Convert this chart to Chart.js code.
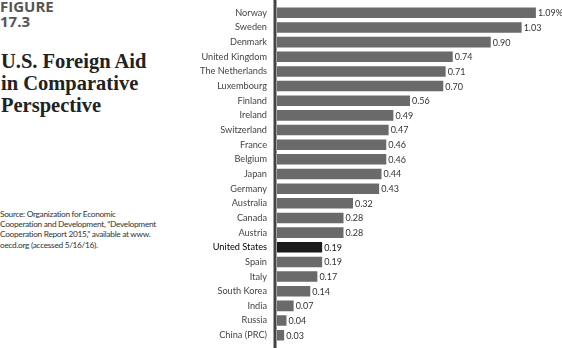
<!DOCTYPE html>
<html lang="en">
<head>
    <meta charset="UTF-8">
    <title>U.S. Foreign Aid in Comparative Perspective</title>
    <style>
        body {
            margin: 0;
            background: #fff;
            width: 562px;
            height: 348px;
            overflow: hidden;
            position: relative;
        }
        .figure {
            position: absolute;
            left: 0;
            top: -1px;
            font-family: "Open Sans", sans-serif;
            font-weight: bold;
            font-size: 15px;
            line-height: 14.5px;
            color: #555;
        }
        .title {
            position: absolute;
            left: 1px;
            top: 50px;
            font-family: "Liberation Serif", serif;
            font-weight: bold;
            font-size: 20.5px;
            line-height: 22px;
            color: #222;
        }
        .source {
            position: absolute;
            left: 0;
            top: 209px;
            font-family: Lato, sans-serif;
            font-size: 8.3px;
            letter-spacing: -0.3px;
            line-height: 10.2px;
            color: #333;
        }
        .chart-box {
            position: absolute;
            left: 180px;
            top: 0;
            width: 382px;
            height: 348px;
        }
    </style>
</head>
<body>
    <div class="figure">FIGURE<br>17.3</div>
    <div class="title">U.S. Foreign Aid<br>in Comparative<br>Perspective</div>
    <div class="source">Source: Organization for Economic<br>Cooperation and Development, “Development<br>Cooperation Report 2015,” available at www.<br>oecd.org (accessed 5/16/16).</div>
    <div class="chart-box"><canvas id="aidChart" width="382" height="348"></canvas></div>

    <script src="https://cdn.jsdelivr.net/npm/chart.js"></script>
    <script>
        // ODA as % of GNI, 2015
        const countries = ['Norway', 'Sweden', 'Denmark', 'United Kingdom', 'The Netherlands', 'Luxembourg',
            'Finland', 'Ireland', 'Switzerland', 'France', 'Belgium', 'Japan', 'Germany', 'Australia',
            'Canada', 'Austria', 'United States', 'Spain', 'Italy', 'South Korea', 'India', 'Russia', 'China (PRC)'];
        const aidValues = [1.09, 1.03, 0.90, 0.74, 0.71, 0.70, 0.56, 0.49, 0.47, 0.46, 0.46, 0.44, 0.43, 0.32,
            0.28, 0.28, 0.19, 0.19, 0.17, 0.14, 0.07, 0.04, 0.03];
        const highlight = 'United States';

        const barColors = countries.map(c => c === highlight ? '#1b1b1b' : '#6a6a6a');

        // value labels at the end of each bar
        const valueLabels = {
            id: 'valueLabels',
            afterDatasetsDraw(chart) {
                const ctx = chart.ctx;
                const meta = chart.getDatasetMeta(0);
                ctx.save();
                ctx.font = '9px Lato, sans-serif';
                ctx.textBaseline = 'middle';
                ctx.textAlign = 'left';
                meta.data.forEach((bar, i) => {
                    const v = aidValues[i];
                    const txt = v.toFixed(2) + (i === 0 ? '%' : '');
                    ctx.fillStyle = countries[i] === highlight ? '#111' : '#333';
                    ctx.fillText(txt, bar.x + 2, bar.y + 0.5);
                });
                ctx.restore();
            }
        };

        // vertical axis line, full height
        const axisLine = {
            id: 'axisLine',
            afterDraw(chart) {
                const ctx = chart.ctx;
                const x = chart.chartArea.left - 2;
                ctx.save();
                ctx.fillStyle = '#444';
                ctx.fillRect(x - 1.5, 0, 3, chart.height);
                ctx.restore();
            }
        };

        new Chart(document.getElementById('aidChart'), {
            type: 'bar',
            data: {
                labels: countries,
                datasets: [{
                    data: aidValues,
                    backgroundColor: barColors,
                    barPercentage: 0.72,
                    categoryPercentage: 1
                }]
            },
            options: {
                indexAxis: 'y',
                responsive: false,
                animation: false,
                layout: { padding: 0 },
                scales: {
                    x: {
                        display: false,
                        min: 0,
                        max: 1.2
                    },
                    y: {
                        afterFit(scale) { scale.width = 97; },
                        grid: { display: false, drawTicks: true, tickLength: 10 },
                        border: { display: false },
                        ticks: {
                            padding: 0,
                            autoSkip: false,
                            font: { family: 'Lato, sans-serif', size: 9.2 },
                            color: ctx => countries[ctx.index] === highlight ? '#000' : '#444'
                        }
                    }
                },
                plugins: {
                    legend: { display: false },
                    tooltip: { enabled: false }
                }
            },
            plugins: [valueLabels, axisLine]
        });
    </script>
</body>
</html>
